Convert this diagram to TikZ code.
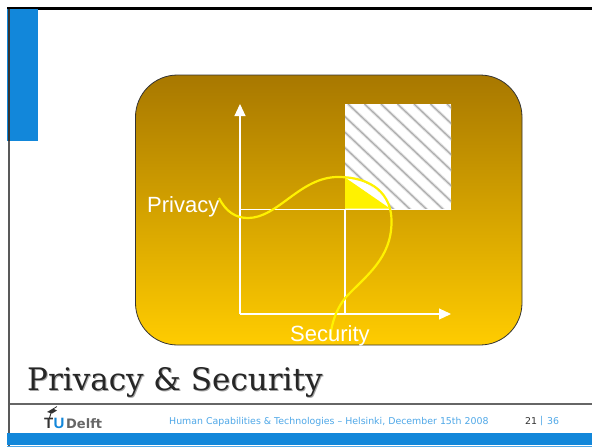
\documentclass[tikz,border=0pt]{standalone}
\usepackage{fontspec}
\setmainfont{Liberation Sans}
\newfontfamily\tahoma{DejaVu Sans}
\newfontfamily\serifT{DejaVu Serif}
\usetikzlibrary{arrows.meta}
\definecolor{tublue}{HTML}{1287DA}
\definecolor{lblue}{HTML}{4FA8E8}
\definecolor{goldtop}{HTML}{A87800}
\definecolor{goldbot}{HTML}{FFCC00}
\tikzset{
  axis/.style={draw=white,line width=1.1pt,-{Triangle[width=11pt,length=12pt,fill=white]}},
  guide/.style={draw=white,line width=1.1pt},
  curve/.style={draw=yellow,line width=2.2pt},
  whitelabel/.style={text=white,font=\fontsize{22}{24}\selectfont,inner sep=0pt},
  footer/.style={text=lblue,font=\tahoma\fontsize{9.4}{10}\selectfont,inner sep=0pt,anchor=west},
  titletext/.style={inner sep=0pt,anchor=base west,font=\serifT\fontsize{31}{34}\selectfont}
}
\begin{document}
\begin{tikzpicture}[x=1pt,y=-1pt]
\useasboundingbox (0,0) rectangle (592,447);
\fill[white] (0,0) rectangle (592,447);
% frame
\fill[black] (7,7) rectangle (592,9.5);
\fill[gray!70!black] (7.5,141) rectangle (10,447);
\fill[tublue] (7,9) rectangle (38,141);
\fill[black!80] (7.5,9) rectangle (10,141);
% panel
\path[draw=black!80,line width=0.8pt,top color=goldtop,bottom color=goldbot,rounded corners=42pt] (135.5,75) rectangle (522,345);
% hatched square
\fill[white] (345,104) rectangle (451,209);
\begin{scope}
\clip (345,104) rectangle (451,209);
\foreach \i in {-8,...,7}{
  \draw[gray!22,line width=3pt] (348+16.5*\i,104) -- ++(159,150);
  \draw[gray!65,line width=1.1pt] (348+16.5*\i,104) -- ++(159,150);
}
\end{scope}
% yellow corner
\fill[white] (345,177) .. controls (362,178) and (382,190) .. (391,209) -- (345,209) -- cycle;
\fill[yellow] (345,177.5) -- (390,208.5) -- (345,208.5) -- cycle;
% axes and guides
\coordinate (origin) at (240,314);
\coordinate (ytip) at (240,104);
\coordinate (xtip) at (451,314);
\coordinate (pleft) at (240,209.5);
\coordinate (pright) at (345,209.5);
\coordinate (sbase) at (345,314);
\draw[axis] (origin) -- (ytip);
\draw[axis] (origin) -- (xtip);
\draw[guide] (pleft) -- (pright) -- (sbase);
\draw[guide] (pright) -- (451,209.5);
% curve
\coordinate (c0) at (219,198);
\coordinate (c1) at (248,218);
\coordinate (c2) at (338,177);
\coordinate (c3) at (391.5,222);
\coordinate (c4) at (347,296);
\coordinate (c5) at (330,340);
\draw[curve] (c0) .. controls (226,212) and (236,218) .. (c1)
  .. controls (278,218) and (300,177) .. (c2)
  .. controls (372,177) and (392,194) .. (c3)
  .. controls (391.5,258) and (366,276) .. (c4)
  .. controls (336,308) and (331,325) .. (c5);
% labels
\node[whitelabel,anchor=base west] (privacy) at (147,212) {Privacy};
\node[whitelabel,anchor=base west] (security) at (290,341.5) {Security};
% title
\node[titletext,text=black!35] (titleshadow) at (28,391) {Privacy \& Security};
\node[titletext,text=black!85] (title) at (27,390) {Privacy \& Security};
\draw[gray!80!black,line width=1.2pt] (10,404) -- (592,404);
% logo
\node[inner sep=0pt,anchor=base west,font=\fontsize{15}{16}\selectfont\bfseries,text=black!80] (logoT) at (44,428) {T};
\node[inner sep=0pt,anchor=base west,font=\fontsize{15}{16}\selectfont\bfseries,text=tublue] (logoU) at (53.5,428) {U};
\node[inner sep=0pt,anchor=base west,font=\tahoma\fontsize{13}{14}\selectfont\bfseries,text=black!60] (logoD) at (66,428) {Delft};
\fill[black!80] (47,412) -- (53,408.5) -- (57,410.5) -- (52,413.5) -- cycle;
\draw[black!80,line width=1pt] (51,413) -- (49.5,418);
\draw[black!80,line width=0.8pt] (53,409) -- (57,406.5);
% footer
\node[footer] (foot) at (169,421.5) {Human Capabilities \& Technologies – Helsinki, December 15th 2008};
\node[footer,text=black!80] (page) at (525,421.5) {21};
\node[footer] (sep) at (540,421.5) {|};
\node[footer] (total) at (547,421.5) {36};
% bottom bar
\fill[tublue] (7,433) rectangle (592,445);
\fill[lblue] (7,445.5) rectangle (592,447);
\end{tikzpicture}
\end{document}
